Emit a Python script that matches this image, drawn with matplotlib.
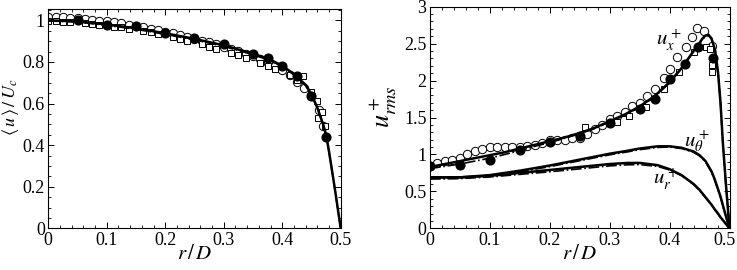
import matplotlib
matplotlib.use("Agg")
import matplotlib.pyplot as plt
from matplotlib.ticker import MultipleLocator
import matplotlib.transforms as mtransforms

plt.rcParams['font.family'] = ['Liberation Serif', 'DejaVu Serif']
plt.rcParams['mathtext.fontset'] = 'stix'

# ---------------- Left panel: mean velocity ----------------
r_line_L = [0, 0.05, 0.1, 0.15, 0.2, 0.25, 0.3, 0.35, 0.38, 0.4, 0.42, 0.44, 0.45,
            0.46, 0.465, 0.47, 0.475, 0.48, 0.485, 0.49, 0.495, 0.5]
u_solid_L = [1.0, 0.995, 0.98, 0.962, 0.938, 0.911, 0.88, 0.84, 0.81, 0.782, 0.742,
             0.69, 0.645, 0.58, 0.54, 0.50, 0.45, 0.37, 0.28, 0.19, 0.095, 0.0]
u_dd_L = [0.997, 0.992, 0.976, 0.957, 0.933, 0.906, 0.875, 0.835, 0.806, 0.778, 0.738,
          0.686, 0.642, 0.578, 0.538, 0.498, 0.448, 0.368, 0.278, 0.188, 0.094, 0.0]

r_fill_L = [0.05, 0.1, 0.15, 0.2, 0.25, 0.3, 0.35, 0.375, 0.4, 0.425, 0.45, 0.475]
u_fill_L = [1.0, 0.98, 0.972, 0.938, 0.913, 0.885, 0.84, 0.818, 0.78, 0.731, 0.634, 0.437]

r_circ_L = [0, 0.0125, 0.025, 0.0375, 0.05, 0.0625, 0.075, 0.0875, 0.1, 0.1125, 0.125,
            0.1375, 0.15, 0.1625, 0.175, 0.1875, 0.2, 0.2125, 0.225, 0.2375, 0.25, 0.2625,
            0.275, 0.2875, 0.3, 0.3125, 0.325, 0.3375, 0.35, 0.3625, 0.375, 0.3875, 0.4,
            0.4125, 0.425, 0.4375, 0.45, 0.4625, 0.47]
u_circ_L = [1.015, 1.015, 1.014, 1.012, 1.01, 1.007, 1.003, 0.999, 0.995, 0.99, 0.985,
            0.979, 0.973, 0.967, 0.96, 0.953, 0.945, 0.937, 0.929, 0.921, 0.912, 0.903,
            0.894, 0.884, 0.873, 0.862, 0.851, 0.84, 0.827, 0.813, 0.797, 0.78, 0.76,
            0.735, 0.705, 0.675, 0.64, 0.57, 0.49]

r_sq_L = [0.0, 0.0125, 0.025, 0.0375, 0.0625, 0.075, 0.0875, 0.1125, 0.125, 0.1375,
          0.1625, 0.175, 0.1875, 0.2125, 0.225, 0.2375, 0.2625, 0.275, 0.2875, 0.3125,
          0.325, 0.3375, 0.3625, 0.375, 0.3875, 0.4125, 0.425, 0.436, 0.45, 0.46, 0.462,
          0.468, 0.473]
u_sq_L = [0.995, 0.995, 0.994, 0.992, 0.987, 0.983, 0.979, 0.97, 0.966, 0.96,
          0.948, 0.942, 0.934, 0.92, 0.912, 0.903, 0.884, 0.874, 0.864, 0.842,
          0.831, 0.819, 0.795, 0.78, 0.765, 0.735, 0.715, 0.73, 0.655, 0.61, 0.53,
          0.56, 0.49]

# ---------------- Right panel: rms fluctuations ----------------
r_ux = [0, 0.025, 0.05, 0.075, 0.1, 0.125, 0.15, 0.175, 0.2, 0.225, 0.25, 0.275, 0.3,
        0.325, 0.35, 0.375, 0.4, 0.42, 0.44, 0.45, 0.455, 0.46, 0.465, 0.47, 0.476,
        0.481, 0.485, 0.489, 0.494, 0.5]
ux_solid = [0.83, 0.87, 0.91, 0.95, 0.99, 1.03, 1.08, 1.13, 1.18, 1.23, 1.29, 1.36,
            1.45, 1.54, 1.65, 1.79, 1.98, 2.17, 2.40, 2.51, 2.57, 2.61, 2.62, 2.57, 2.41,
            2.1, 1.7, 1.15, 0.6, 0.0]
ux_dd = [0.81, 0.84, 0.87, 0.91, 0.95, 1.0, 1.05, 1.11, 1.16, 1.22, 1.28, 1.35,
         1.44, 1.53, 1.64, 1.78, 1.97, 2.16, 2.39, 2.50, 2.56, 2.60, 2.61, 2.56, 2.40,
         2.08, 1.68, 1.13, 0.58, 0.0]

r_comp = [0, 0.05, 0.1, 0.15, 0.2, 0.25, 0.3, 0.33, 0.35, 0.38, 0.4, 0.42, 0.44, 0.45,
          0.46, 0.47, 0.475, 0.48, 0.485, 0.49, 0.495, 0.5]
ut_solid = [0.69, 0.69, 0.72, 0.78, 0.85, 0.93, 1.01, 1.05, 1.08, 1.11, 1.11, 1.09,
            1.04, 0.99, 0.91, 0.77, 0.67, 0.55, 0.43, 0.28, 0.14, 0.0]
ut_dd = [0.67, 0.675, 0.705, 0.765, 0.835, 0.915, 0.995, 1.035, 1.065, 1.095, 1.1, 1.08,
         1.03, 0.98, 0.90, 0.76, 0.66, 0.54, 0.42, 0.27, 0.13, 0.0]
ur_solid = [0.69, 0.69, 0.71, 0.75, 0.79, 0.83, 0.87, 0.885, 0.885, 0.855, 0.80, 0.72,
            0.60, 0.52, 0.42, 0.32, 0.26, 0.21, 0.15, 0.10, 0.05, 0.0]
ur_dd = [0.67, 0.675, 0.695, 0.73, 0.765, 0.805, 0.845, 0.86, 0.862, 0.838, 0.79, 0.712,
         0.595, 0.515, 0.415, 0.315, 0.255, 0.205, 0.145, 0.095, 0.045, 0.0]

r_fill_R = [0, 0.05, 0.1, 0.15, 0.2, 0.25, 0.3, 0.35, 0.375, 0.4, 0.425, 0.448, 0.473]
u_fill_R = [0.84, 0.86, 0.92, 1.06, 1.17, 1.25, 1.43, 1.615, 1.75, 2.02, 2.22, 2.45, 2.31]

r_circ_R = [0, 0.0125, 0.025, 0.0375, 0.05, 0.0625, 0.075, 0.0875, 0.1, 0.1125, 0.125,
            0.1375, 0.15, 0.1625, 0.175, 0.1875, 0.2, 0.2125, 0.225, 0.2375, 0.25, 0.2625,
            0.275, 0.2875, 0.3, 0.3125, 0.325, 0.3375, 0.35, 0.3625, 0.376, 0.39, 0.401,
            0.412, 0.428, 0.437, 0.446, 0.458, 0.47]
u_circ_R = [0.84, 0.88, 0.91, 0.93, 0.95, 1.0, 1.05, 1.08, 1.10, 1.10, 1.10, 1.10, 1.10,
            1.11, 1.13, 1.16, 1.19, 1.20, 1.20, 1.22, 1.22, 1.28, 1.34, 1.40, 1.48, 1.52,
            1.58, 1.65, 1.70, 1.79, 1.89, 2.03, 2.15, 2.32, 2.46, 2.59, 2.71, 2.67, 2.47]

r_sq_R = [0.259, 0.313, 0.333, 0.36, 0.39, 0.415, 0.44, 0.46, 0.468, 0.4705, 0.471]
u_sq_R = [1.375, 1.44, 1.52, 1.64, 1.88, 2.11, 2.39, 2.45, 2.43, 2.21, 2.12]

xticks = [0, 0.1, 0.2, 0.3, 0.4, 0.5]
xticklabels = ['0', '0.1', '0.2', '0.3', '0.4', '0.5']
yticks_L = [0, 0.2, 0.4, 0.6, 0.8, 1]
yticklabels_L = ['0', '0.2', '0.4', '0.6', '0.8', '1']
yticks_R = [0, 0.5, 1, 1.5, 2, 2.5, 3]
yticklabels_R = ['0', '0.5', '1', '1.5', '2', '2.5', '3']

fig = plt.figure(figsize=(7.37, 2.70), dpi=100)
axL = fig.add_axes([48.3/737, 1-228.3/270, (340.7-48.3)/737, (228.3-8.5)/270])
axR = fig.add_axes([430/737, 1-228.3/270, (729.5-430)/737, (228.3-6.7)/270])

ms_c = 6.0
ms_s = 4.8
fs = 13

# Left
axL.plot(r_circ_L, u_circ_L, 'o', mfc='white', mec='black', mew=0.7, ms=ms_c, zorder=2)
axL.plot(r_sq_L, u_sq_L, 's', mfc='white', mec='black', mew=0.7, ms=ms_s, zorder=2)
axL.plot(r_line_L, u_dd_L, color='black', lw=1.2, ls='-.', zorder=3)
axL.plot(r_line_L, u_solid_L, color='black', lw=1.8, zorder=3)
axL.plot(r_fill_L, u_fill_L, 'o', color='black', ms=ms_c + 0.3, zorder=4)
axL.set_xlim(0, 0.5)
axL.set_ylim(0, 1.057)
axL.set_xticks(xticks)
axL.set_xticklabels(xticklabels)
axL.set_yticks(yticks_L)
axL.set_yticklabels(yticklabels_L)
axL.xaxis.set_minor_locator(MultipleLocator(0.02))
axL.yaxis.set_minor_locator(MultipleLocator(0.05))
axL.set_xlabel(r'$r\,/\,D$', fontsize=15, labelpad=-3)
axL.set_ylabel(r'$\langle\, u\,\rangle\,/\,U_c$', fontsize=13)
axL.yaxis.set_label_coords(-0.092, 0.55)

# Right
axR.plot(r_circ_R, u_circ_R, 'o', mfc='white', mec='black', mew=0.7, ms=ms_c, zorder=2)
axR.plot(r_sq_R, u_sq_R, 's', mfc='white', mec='black', mew=0.7, ms=ms_s, zorder=2)
for sol, dd, rr in [(ux_solid, ux_dd, r_ux), (ut_solid, ut_dd, r_comp), (ur_solid, ur_dd, r_comp)]:
    axR.plot(rr, dd, color='black', lw=1.2, ls='-.', zorder=3)
    axR.plot(rr, sol, color='black', lw=1.8, zorder=3)
axR.plot(r_fill_R, u_fill_R, 'o', color='black', ms=ms_c + 0.3, zorder=4)
axR.set_xlim(0, 0.5)
axR.set_ylim(0, 3)
axR.set_xticks(xticks)
axR.set_xticklabels(xticklabels)
axR.set_yticks(yticks_R)
axR.set_yticklabels(yticklabels_R)
axR.xaxis.set_minor_locator(MultipleLocator(0.02))
axR.yaxis.set_minor_locator(MultipleLocator(0.1))
axR.set_xlabel(r'$r\,/\,D$', fontsize=15, labelpad=-3)
axR.set_ylabel(r'$u^+_{rms}$', fontsize=19)
axR.yaxis.set_label_coords(-0.105, 0.55)
axR.text(0.398, 2.56, r'$u^+_x$', fontsize=15, ha='center', va='center')
axR.text(0.445, 1.18, r'$u^+_\theta$', fontsize=15, ha='center', va='center')
axR.text(0.394, 0.68, r'$u^+_r$', fontsize=15, ha='center', va='center')

for ax in (axL, axR):
    ax.tick_params(which='both', direction='in', top=True, right=True, labelsize=fs, pad=2.5)
    ax.tick_params(which='major', length=4.5, width=0.7)
    ax.tick_params(which='minor', length=2.5, width=0.6)
    for s in ax.spines.values():
        s.set_linewidth(0.8)

# keep the last x tick label of the right panel inside the figure
offset = mtransforms.ScaledTranslation(-5/100, 0, fig.dpi_scale_trans)
lab = axR.get_xticklabels()[-1]
lab.set_transform(lab.get_transform() + offset)

fig.savefig('out.png', dpi=100)
